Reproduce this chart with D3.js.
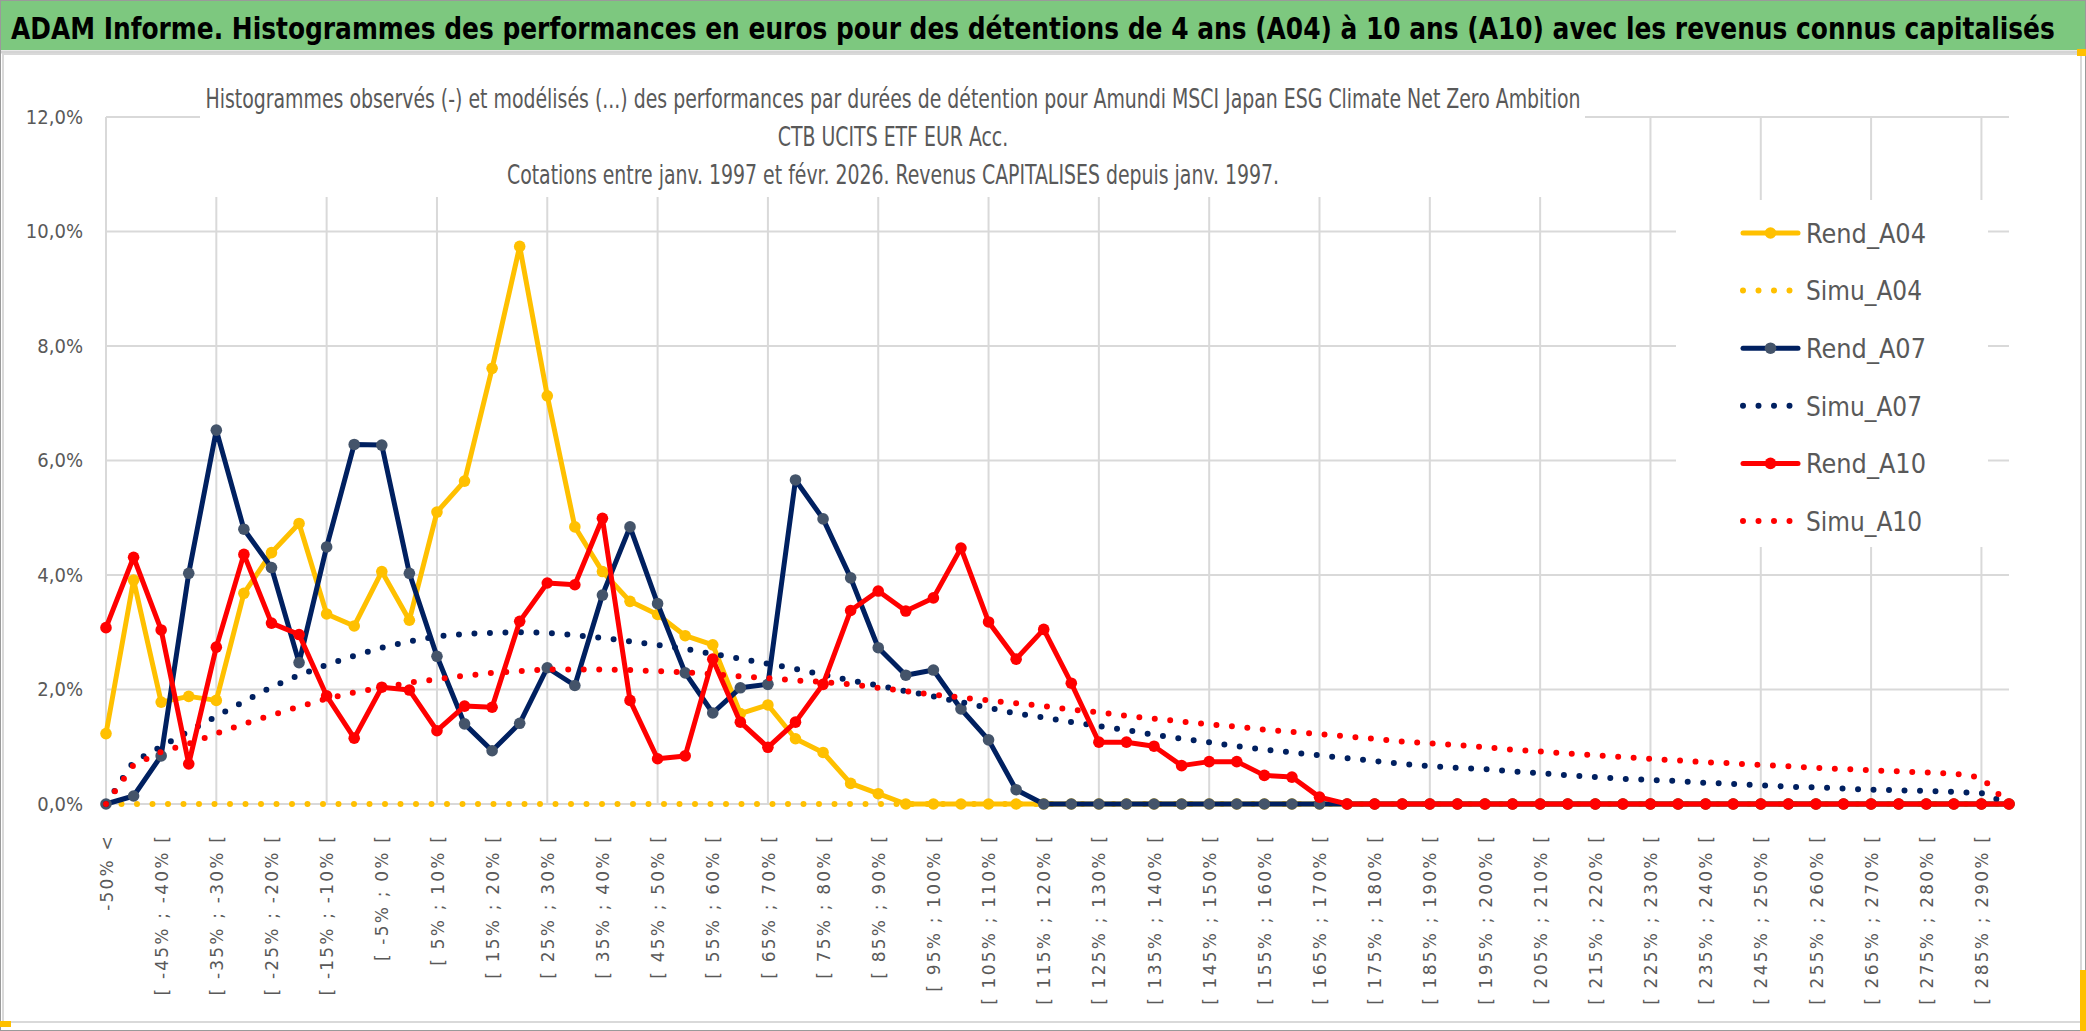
<!DOCTYPE html>
<html>
<head>
<meta charset="utf-8">
<script src="https://cdn.jsdelivr.net/npm/d3@7"></script>
<style>
  body { margin: 0; background: #fff; }
  svg { display: block; }
</style>
</head>
<body>
<svg id="chart" width="2086" height="1031"></svg>
<script>
// Classes de performance (axe des abscisses)
const categories = [
  "-50% <", "[ -50% ; -45% [", "[ -45% ; -40% [", "[ -40% ; -35% [", "[ -35% ; -30% [",
  "[ -30% ; -25% [", "[ -25% ; -20% [", "[ -20% ; -15% [", "[ -15% ; -10% [", "[ -10% ; -5% [",
  "[ -5% ; 0% [", "[ 0% ; 5% [", "[ 5% ; 10% [", "[ 10% ; 15% [", "[ 15% ; 20% [",
  "[ 20% ; 25% [", "[ 25% ; 30% [", "[ 30% ; 35% [", "[ 35% ; 40% [", "[ 40% ; 45% [",
  "[ 45% ; 50% [", "[ 50% ; 55% [", "[ 55% ; 60% [", "[ 60% ; 65% [", "[ 65% ; 70% [",
  "[ 70% ; 75% [", "[ 75% ; 80% [", "[ 80% ; 85% [", "[ 85% ; 90% [", "[ 90% ; 95% [",
  "[ 95% ; 100% [", "[ 100% ; 105% [", "[ 105% ; 110% [", "[ 110% ; 115% [", "[ 115% ; 120% [",
  "[ 120% ; 125% [", "[ 125% ; 130% [", "[ 130% ; 135% [", "[ 135% ; 140% [", "[ 140% ; 145% [",
  "[ 145% ; 150% [", "[ 150% ; 155% [", "[ 155% ; 160% [", "[ 160% ; 165% [", "[ 165% ; 170% [",
  "[ 170% ; 175% [", "[ 175% ; 180% [", "[ 180% ; 185% [", "[ 185% ; 190% [", "[ 190% ; 195% [",
  "[ 195% ; 200% [", "[ 200% ; 205% [", "[ 205% ; 210% [", "[ 210% ; 215% [", "[ 215% ; 220% [",
  "[ 220% ; 225% [", "[ 225% ; 230% [", "[ 230% ; 235% [", "[ 235% ; 240% [", "[ 240% ; 245% [",
  "[ 245% ; 250% [", "[ 250% ; 255% [", "[ 255% ; 260% [", "[ 260% ; 265% [", "[ 265% ; 270% [",
  "[ 270% ; 275% [", "[ 275% ; 280% [", "[ 280% ; 285% [", "[ 285% ; 290% [", "[ 290% ; 295% ["
];

// Valeurs en %
const rendA04 = [
  1.23, 3.91, 1.78, 1.88, 1.81, 3.68, 4.39, 4.90, 3.32, 3.11,
  4.06, 3.21, 5.10, 5.64, 7.61, 9.74, 7.13, 4.84, 4.06, 3.54,
  3.31, 2.94, 2.78, 1.58, 1.73, 1.14, 0.90, 0.36, 0.18, 0,
  0, 0, 0, 0, 0, 0, 0, 0, 0, 0,
  0, 0, 0, 0, 0, 0, 0, 0, 0, 0,
  0, 0, 0, 0, 0, 0, 0, 0, 0, 0,
  0, 0, 0, 0, 0, 0, 0, 0, 0, 0
];
const simuA04 = [
  0, 0, 0, 0, 0, 0, 0, 0, 0, 0,
  0, 0, 0, 0, 0, 0, 0, 0, 0, 0,
  0, 0, 0, 0, 0, 0, 0, 0, 0, 0,
  0, 0, 0, 0, 0, 0, 0, 0, 0, 0,
  0, 0, 0, 0, 0, 0, 0, 0, 0, 0,
  0, 0, 0, 0, 0, 0, 0, 0, 0, 0,
  0, 0, 0, 0, 0, 0, 0, 0, 0, 0
];
const rendA07 = [
  0, 0.14, 0.84, 4.03, 6.53, 4.80, 4.13, 2.47, 4.49, 6.28,
  6.27, 4.03, 2.58, 1.40, 0.93, 1.41, 2.38, 2.07, 3.65, 4.84,
  3.50, 2.29, 1.59, 2.03, 2.09, 5.66, 4.98, 3.95, 2.73, 2.25,
  2.34, 1.66, 1.12, 0.25, 0, 0, 0, 0, 0, 0,
  0, 0, 0, 0, 0, 0, 0, 0, 0, 0,
  0, 0, 0, 0, 0, 0, 0, 0, 0, 0,
  0, 0, 0, 0, 0, 0, 0, 0, 0, 0
];
const simuA07 = [
  0, 0.74, 1.00, 1.27, 1.53, 1.79, 2.04, 2.25, 2.43, 2.59,
  2.73, 2.84, 2.93, 2.97, 2.99, 3.00, 2.99, 2.95, 2.90, 2.84,
  2.78, 2.71, 2.62, 2.54, 2.45, 2.36, 2.26, 2.16, 2.07, 1.97,
  1.88, 1.78, 1.68, 1.58, 1.51, 1.43, 1.36, 1.29, 1.21, 1.14,
  1.08, 1.01, 0.95, 0.90, 0.85, 0.80, 0.75, 0.70, 0.66, 0.63,
  0.61, 0.57, 0.54, 0.50, 0.47, 0.44, 0.42, 0.40, 0.37, 0.35,
  0.33, 0.30, 0.29, 0.27, 0.25, 0.24, 0.23, 0.21, 0.19, 0
];
const rendA10 = [
  3.08, 4.31, 3.04, 0.70, 2.74, 4.36, 3.16, 2.96, 1.89, 1.15,
  2.04, 1.99, 1.28, 1.71, 1.69, 3.19, 3.86, 3.83, 4.99, 1.81,
  0.79, 0.84, 2.53, 1.43, 0.99, 1.43, 2.09, 3.38, 3.72, 3.37,
  3.60, 4.47, 3.18, 2.53, 3.05, 2.11, 1.08, 1.08, 1.01, 0.67,
  0.74, 0.74, 0.50, 0.47, 0.12, 0, 0, 0, 0, 0,
  0, 0, 0, 0, 0, 0, 0, 0, 0, 0,
  0, 0, 0, 0, 0, 0, 0, 0, 0, 0
];
const simuA10 = [
  0, 0.68, 0.91, 1.05, 1.23, 1.40, 1.55, 1.70, 1.84, 1.95,
  2.03, 2.12, 2.18, 2.24, 2.29, 2.32, 2.35, 2.35, 2.35, 2.34,
  2.32, 2.30, 2.27, 2.23, 2.20, 2.16, 2.13, 2.09, 2.03, 1.97,
  1.91, 1.86, 1.81, 1.76, 1.71, 1.65, 1.60, 1.54, 1.49, 1.44,
  1.39, 1.35, 1.30, 1.26, 1.22, 1.18, 1.14, 1.09, 1.06, 1.03,
  0.99, 0.95, 0.92, 0.88, 0.85, 0.82, 0.79, 0.76, 0.73, 0.71,
  0.68, 0.66, 0.63, 0.61, 0.59, 0.57, 0.55, 0.53, 0.46, 0
];

const yTicks = [0, 2, 4, 6, 8, 10, 12];

const headerTitle = "ADAM Informe. Histogrammes des performances en euros pour des détentions de 4 ans (A04) à 10 ans (A10) avec les revenus connus capitalisés";
const chartTitle = [
  "Histogrammes observés (-) et modélisés (...) des performances par durées de détention pour Amundi MSCI Japan ESG Climate Net Zero Ambition",
  "CTB UCITS ETF EUR Acc.",
  "Cotations entre janv. 1997 et févr. 2026. Revenus CAPITALISES depuis janv. 1997."
];

const series = [
  { name: "Rend_A04", values: rendA04, color: "#FFC000", marker: "#FFC000", dotted: false },
  { name: "Simu_A04", values: simuA04, color: "#FFC000", dotted: true },
  { name: "Rend_A07", values: rendA07, color: "#002060", marker: "#44546A", dotted: false },
  { name: "Simu_A07", values: simuA07, color: "#002060", dotted: true },
  { name: "Rend_A10", values: rendA10, color: "#FF0000", marker: "#FF0000", dotted: false },
  { name: "Simu_A10", values: simuA10, color: "#FF0000", dotted: true }
];

const W = 2086, H = 1031;
const NARROW = "'Liberation Sans Narrow','DejaVu Sans Condensed','Roboto Condensed',sans-serif";
const GRID = "#D9D9D9";
const TXT = "#595959";
const DOT_DASH = "0 15.5";

const svg = d3.select("#chart");

// cadre + bandeau vert
svg.append("rect").attr("width", W).attr("height", H).attr("fill", "#fff");
svg.append("rect").attr("x", 0).attr("y", 0).attr("width", W).attr("height", 50).attr("fill", "#7DC87F");
svg.append("line").attr("x1", 0).attr("x2", W).attr("y1", 52).attr("y2", 52)
  .attr("stroke", "#D4D4D4").attr("stroke-width", 3);
svg.append("rect").attr("x", 3).attr("y", 54).attr("width", W - 8).attr("height", 968)
  .attr("fill", "none").attr("stroke", GRID).attr("stroke-width", 2);
svg.append("rect").attr("x", 0.5).attr("y", 0.5).attr("width", W - 1).attr("height", H - 1)
  .attr("fill", "none").attr("stroke", "#9A9A9A").attr("stroke-width", 1);
// petites poignées jaunes
svg.append("rect").attr("x", 0).attr("y", 1021).attr("width", 11).attr("height", 6).attr("fill", "#FFC000");
svg.append("rect").attr("x", 2077).attr("y", 49).attr("width", 9).attr("height", 7).attr("fill", "#FFC000");
svg.append("rect").attr("x", 2080).attr("y", 970).attr("width", 6).attr("height", 61).attr("fill", "#FFC000");

// titre du bandeau : compressé horizontalement pour tenir entre x=11 et x=2055
const header = svg.append("text")
  .attr("x", 0).attr("y", 0)
  .style("font-family", NARROW).style("font-weight", "bold").style("font-size", "30px")
  .attr("fill", "#000")
  .text(headerTitle);
const headerScale = 2044 / header.node().getComputedTextLength();
header.attr("transform", `translate(11,39) scale(${headerScale},1)`);

// échelles
const x = d3.scalePoint().domain(categories).range([106, 2009]);
const y = d3.scaleLinear().domain([0, 12]).range([804, 117]);

const frLocale = d3.formatLocale({ decimal: ",", thousands: " ", grouping: [3], currency: ["", " €"] });
const fmt = frLocale.format(".1f");

// grilles
const gridG = svg.append("g");
gridG.selectAll(".hgrid").data(yTicks).join("line")
  .attr("class", "hgrid")
  .attr("x1", x(categories[0])).attr("x2", x(categories[categories.length - 1]))
  .attr("y1", d => y(d)).attr("y2", d => y(d))
  .attr("stroke", GRID).attr("stroke-width", 2);
gridG.selectAll(".vgrid").data(categories.filter((c, i) => i % 4 === 0)).join("line")
  .attr("class", "vgrid")
  .attr("x1", d => x(d)).attr("x2", d => x(d))
  .attr("y1", y(12)).attr("y2", y(0))
  .attr("stroke", GRID).attr("stroke-width", 2);

// axe Y
const yAxis = svg.append("g").attr("transform", `translate(${x(categories[0])},0)`)
  .call(d3.axisLeft(y).tickValues(yTicks).tickSize(0).tickPadding(23).tickFormat(d => fmt(d) + "%"));
yAxis.select(".domain").remove();
yAxis.selectAll("text")
  .style("font-family", NARROW).style("font-size", "20px").attr("fill", TXT);

// axe X (une étiquette sur deux)
const xAxis = svg.append("g").attr("transform", `translate(0,${y(0)})`)
  .call(d3.axisBottom(x).tickSize(0).tickFormat((d, i) => (i % 2 === 0 ? d : "")));
xAxis.select(".domain").remove();
xAxis.selectAll("text")
  .attr("transform", "translate(0,30) rotate(-90)")
  .attr("x", 0).attr("y", 0).attr("dy", "0.36em")
  .attr("text-anchor", "end")
  .style("font-family", "'DejaVu Sans',sans-serif").style("font-size", "17px")
  .style("letter-spacing", "2.2px")
  .attr("fill", TXT);

// zones blanches du titre et de la légende (masquent la grille)
svg.append("rect").attr("x", 200).attr("y", 62).attr("width", 1385).attr("height", 135).attr("fill", "#fff");
svg.append("rect").attr("x", 1676).attr("y", 200).attr("width", 312).attr("height", 347).attr("fill", "#fff");

// titre du graphique : trois lignes centrées, même compression que la ligne 1
const titleG = svg.append("g").style("font-family", NARROW).attr("fill", TXT).style("font-size", "27px");
const titleLines = titleG.selectAll("text").data(chartTitle).join("text")
  .attr("x", 893).attr("y", (d, i) => 108 + i * 38)
  .attr("text-anchor", "middle")
  .text(d => d);
const ratio = 1375 / titleLines.node().getComputedTextLength();
titleLines.each(function () {
  const len = this.getComputedTextLength() * ratio;
  d3.select(this).attr("textLength", len).attr("lengthAdjust", "spacingAndGlyphs");
});

// séries
const line = d3.line().x((d, i) => x(categories[i])).y(d => y(d));
const plotG = svg.append("g");
series.forEach(s => {
  const path = plotG.append("path")
    .datum(s.values)
    .attr("d", line)
    .attr("fill", "none")
    .attr("stroke", s.color)
    .attr("stroke-linejoin", "round")
    .attr("stroke-linecap", "round");
  if (s.dotted) {
    path.attr("stroke-width", 6).attr("stroke-dasharray", DOT_DASH);
  } else {
    path.attr("stroke-width", 5);
    plotG.append("g").selectAll("circle")
      .data(s.values).join("circle")
      .attr("cx", (d, i) => x(categories[i]))
      .attr("cy", d => y(d))
      .attr("r", 5.8)
      .attr("fill", s.marker);
  }
});

// légende
const legend = svg.append("g");
series.forEach((s, i) => {
  const ly = 233 + i * 57.6;
  const g = legend.append("g");
  const l = g.append("line")
    .attr("x1", 1743).attr("x2", 1798).attr("y1", ly).attr("y2", ly)
    .attr("stroke", s.color).attr("stroke-linecap", "round");
  if (s.dotted) {
    l.attr("stroke-width", 6).attr("stroke-dasharray", DOT_DASH);
  } else {
    l.attr("stroke-width", 5);
    g.append("circle").attr("cx", 1770.5).attr("cy", ly).attr("r", 5.8).attr("fill", s.marker);
  }
  g.append("text")
    .attr("x", 1806).attr("y", ly).attr("dy", "0.36em")
    .attr("textLength", s.dotted ? 116 : 120).attr("lengthAdjust", "spacingAndGlyphs")
    .style("font-family", NARROW).style("font-size", "27px")
    .attr("fill", TXT)
    .text(s.name);
});
</script>
</body>
</html>
